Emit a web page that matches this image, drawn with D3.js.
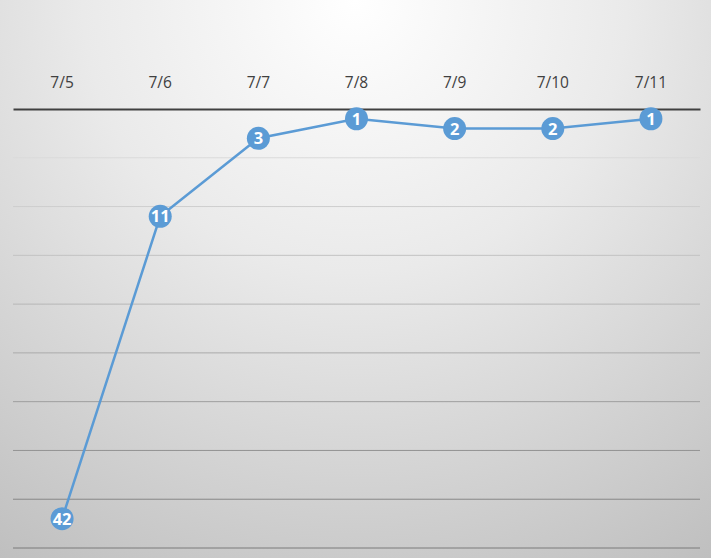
<!DOCTYPE html>
<html><head><meta charset="utf-8">
<script src="https://cdn.jsdelivr.net/npm/d3@7"></script>
<style>html,body{margin:0;padding:0;overflow:hidden}svg{display:block}</style>
</head><body>
<script>
const categories = ["7/5","7/6","7/7","7/8","7/9","7/10","7/11"];
const values = [42, 11, 3, 1, 2, 2, 1];
const gridTicks = [5,10,15,20,25,30,35,40,45];

const W = 711, H = 558;
const svg = d3.select("body").append("svg").attr("width", W).attr("height", H);
const defs = svg.append("defs");
const bg = defs.append("radialGradient").attr("id","bg")
  .attr("gradientUnits","userSpaceOnUse").attr("cx",355).attr("cy",0).attr("r",680);
bg.append("stop").attr("offset",0).attr("stop-color","#ffffff");
bg.append("stop").attr("offset",0.4).attr("stop-color","#eaeaea");
bg.append("stop").attr("offset",1).attr("stop-color","#bdbdbd");
const gg = defs.append("linearGradient").attr("id","grid")
  .attr("gradientUnits","userSpaceOnUse").attr("x1",0).attr("y1",109).attr("x2",0).attr("y2",548);
gg.append("stop").attr("offset",0).attr("stop-color","#e6e6e6");
gg.append("stop").attr("offset",1).attr("stop-color","#7a7a7a");

svg.append("rect").attr("width",W).attr("height",H).attr("fill","url(#bg)");

const x = d3.scaleBand().domain(categories).range([13, 700]);
const y = d3.scaleLinear().domain([0, 45]).range([109, 548]);

svg.append("g").selectAll("line").data(gridTicks).join("line")
  .attr("x1",13).attr("x2",700)
  .attr("y1",d=>y(d)).attr("y2",d=>y(d))
  .attr("stroke","url(#grid)").attr("stroke-width",1);

const xAxis = svg.append("g").attr("transform",`translate(0,${y(0)})`)
  .call(d3.axisTop(x).tickSize(0).tickPadding(21));
xAxis.select(".domain").attr("stroke","#404040").attr("stroke-width",2);
xAxis.selectAll("text").attr("font-family","'Segoe UI','Open Sans',sans-serif")
  .attr("font-size",15.5).attr("fill","#404040");

const cx = d => x(d) + x.bandwidth()/2;
const pts = categories.map((c,i)=>[cx(c), y(values[i])]);
svg.append("path").attr("d", d3.line()(pts)).attr("fill","none")
  .attr("stroke","#5b9bd5").attr("stroke-width",2.5);

const m = svg.append("g").selectAll("g").data(categories).join("g")
  .attr("transform",(c,i)=>`translate(${cx(c)},${y(values[i])})`);
m.append("circle").attr("r",11.5).attr("fill","#5b9bd5");
m.append("text").text((c,i)=>values[i]).attr("text-anchor","middle").attr("dy","0.37em")
  .attr("font-family","'Open Sans',sans-serif").attr("font-weight","bold")
  .attr("font-size",16.5).attr("fill","#ffffff");
</script>
</body></html>
